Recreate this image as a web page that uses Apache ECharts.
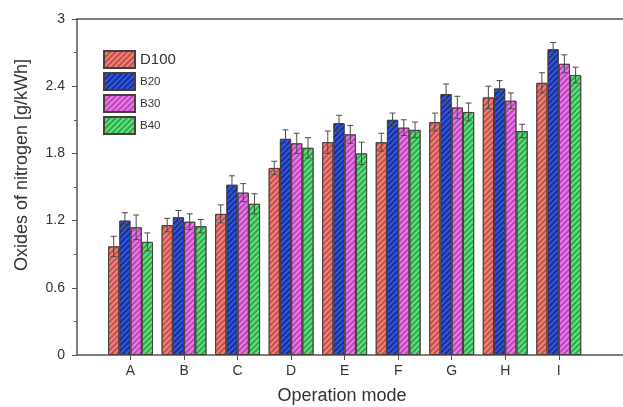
<!DOCTYPE html>
<html>
<head>
<meta charset="utf-8">
<script src="https://cdn.jsdelivr.net/npm/echarts@6/dist/echarts.min.js"></script>
<style>
  html, body { margin: 0; padding: 0; background: #fff; }
  #chart { width: 623px; height: 407px; }
</style>
</head>
<body>
<div id="chart"></div>
<script>
// Operation modes on the x axis
const categories = ['A', 'B', 'C', 'D', 'E', 'F', 'G', 'H', 'I'];
const seriesNames = ['D100', 'B20', 'B30', 'B40'];

// NOx emissions [g/kWh] per fuel blend
const d100 = [0.97, 1.16, 1.26, 1.67, 1.90, 1.90, 2.08, 2.30, 2.43];
const b20  = [1.20, 1.23, 1.52, 1.93, 2.07, 2.10, 2.33, 2.38, 2.73];
const b30  = [1.14, 1.19, 1.45, 1.89, 1.97, 2.03, 2.21, 2.27, 2.60];
const b40  = [1.01, 1.15, 1.35, 1.85, 1.80, 2.01, 2.17, 2.00, 2.50];

// Error-bar half widths
const d100Err = [0.09, 0.06, 0.08, 0.06, 0.10, 0.08, 0.08, 0.10, 0.09];
const b20Err  = [0.07, 0.06, 0.08, 0.08, 0.07, 0.06, 0.09, 0.07, 0.06];
const b30Err  = [0.11, 0.07, 0.08, 0.09, 0.08, 0.07, 0.10, 0.07, 0.08];
const b40Err  = [0.08, 0.06, 0.09, 0.09, 0.10, 0.07, 0.08, 0.06, 0.07];

const yTicks = [0, 0.6, 1.2, 1.8, 2.4, 3];

const values = [d100, b20, b30, b40];
const errors = [d100Err, b20Err, b30Err, b40Err];
const fills = ['#F4827A', '#2F58E6', '#EE7BEA', '#5DE57C'];
const stripes = ['rgba(150,40,40,0.55)', 'rgba(10,20,90,0.6)', 'rgba(140,30,140,0.55)', 'rgba(20,110,40,0.55)'];

const catPos = categories.map((c, i) => i + 1);
const barCategoryGap = 0.16;
const nSeries = seriesNames.length;

const barSeries = seriesNames.map((name, s) => ({
  name: name,
  type: 'bar',
  barGap: '0%',
  barCategoryGap: (barCategoryGap * 100) + '%',
  data: values[s].map((v, i) => [catPos[i], v]),
  itemStyle: {
    color: fills[s],
    borderColor: 'rgba(70,60,60,0.85)',
    borderWidth: 1,
    decal: {
      symbol: 'rect',
      symbolSize: 1,
      dashArrayX: [1, 0],
      dashArrayY: [2, 2],
      rotation: -Math.PI / 4,
      color: stripes[s]
    }
  },
  emphasis: { disabled: true }
}));

const errSeries = seriesNames.map((name, s) => ({
  name: name,
  type: 'custom',
  z: 5,
  silent: true,
  data: values[s].map((v, i) => [catPos[i], v, errors[s][i]]),
  renderItem: function (params, api) {
    const x = api.value(0), v = api.value(1), e = api.value(2);
    const band = api.size([1, 0])[0];
    const barW = band * (1 - barCategoryGap) / nSeries;
    const off = (s - (nSeries - 1) / 2) * barW;
    const hi = api.coord([x, v + e]);
    const lo = api.coord([x, v - e]);
    const cx = hi[0] + off;
    const cap = 3;
    const st = { stroke: '#4a4a4a', lineWidth: 1 };
    return {
      type: 'group',
      children: [
        { type: 'line', shape: { x1: cx, y1: hi[1], x2: cx, y2: lo[1] }, style: st },
        { type: 'line', shape: { x1: cx - cap, y1: hi[1], x2: cx + cap, y2: hi[1] }, style: st },
        { type: 'line', shape: { x1: cx - cap, y1: lo[1], x2: cx + cap, y2: lo[1] }, style: st }
      ]
    };
  }
}));

const axisColor = '#555';
const chart = echarts.init(document.getElementById('chart'), null, { renderer: 'canvas' });
chart.setOption({
  animation: false,
  backgroundColor: '#fff',
  textStyle: { fontFamily: 'Liberation Sans, Arial, sans-serif' },
  grid: { left: 77, right: 0, top: 19, bottom: 52, containLabel: false, outerBoundsMode: 'none' },
  legend: {
    data: seriesNames.map(n => ({ name: n, icon: 'rect' })),
    orient: 'vertical',
    left: 103,
    top: 50,
    padding: 0,
    itemWidth: 31,
    itemHeight: 17,
    itemGap: 3,
    selectedMode: false,
    formatter: name => name === 'D100' ? '{big|' + name + '}' : '{small|' + name + '}',
    textStyle: {
      color: '#333',
      rich: {
        big: { fontSize: 15, color: '#333' },
        small: { fontSize: 11.5, color: '#333' }
      }
    }
  },
  xAxis: [{
    type: 'value',
    min: 0,
    max: 10.2,
    name: 'Operation mode',
    nameLocation: 'middle',
    nameGap: 32,
    nameTextStyle: { fontSize: 18, color: '#333', padding: [0, 16, 0, 0] },
    axisLine: { show: true, lineStyle: { color: axisColor, width: 1.5 } },
    axisTick: { show: true, inside: false, length: 5, customValues: catPos, lineStyle: { color: axisColor } },
    axisLabel: {
      customValues: catPos,
      formatter: v => categories[Math.round(v) - 1] || '',
      fontSize: 14,
      color: '#333',
      margin: 9
    },
    splitLine: { show: false }
  }, {
    type: 'value',
    position: 'top',
    min: 0,
    max: 10.2,
    axisLine: { show: true, onZero: false, lineStyle: { color: axisColor, width: 1.5 } },
    axisTick: { show: false },
    axisLabel: { show: false },
    splitLine: { show: false }
  }],
  yAxis: {
    type: 'value',
    min: yTicks[0],
    max: yTicks[yTicks.length - 1],
    interval: 0.6,
    name: 'Oxides of nitrogen [g/kWh]',
    nameLocation: 'middle',
    nameGap: 46,
    nameTextStyle: { fontSize: 18, color: '#333', padding: [0, 0, 0, 44] },
    axisLine: { show: true, lineStyle: { color: axisColor, width: 1.5 } },
    axisTick: { show: true, inside: false, length: 5, lineStyle: { color: axisColor } },
    minorTick: { show: true, splitNumber: 2, length: 3, lineStyle: { color: axisColor } },
    axisLabel: {
      fontSize: 14,
      color: '#333',
      margin: 12,
      formatter: v => String(Math.round(v * 10) / 10)
    },
    splitLine: { show: false }
  },
  series: barSeries.concat(errSeries)
});
</script>
</body>
</html>
